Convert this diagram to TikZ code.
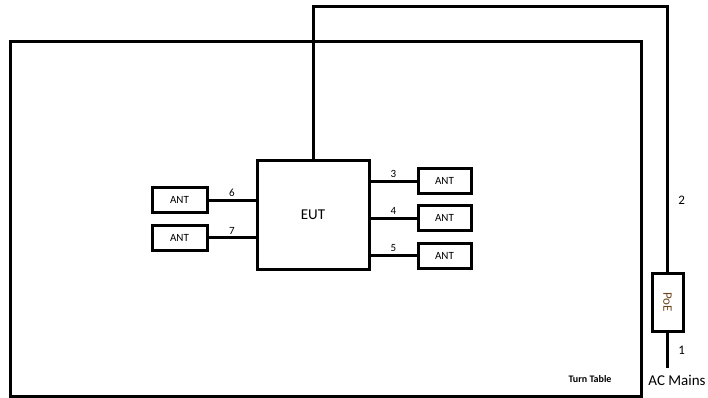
\documentclass[tikz,border=0pt]{standalone}
\usepackage{fontspec}
\setmainfont{Carlito}
\definecolor{poebrown}{RGB}{110,70,30}
\tikzset{
  box/.style={draw, line width=3pt, inner sep=0pt},
  antbox/.style={box, minimum width=53pt, minimum height=25pt, font=\fontsize{11}{13}\selectfont},
  cable/.style={line width=3pt},
  portnum/.style={font=\fontsize{11}{13}\selectfont, above, inner sep=2pt}
}
\begin{document}
\begin{tikzpicture}[x=1pt,y=-1pt]
    \useasboundingbox (0,0) rectangle (708,398);
    % turn table
    \draw[line width=3pt] (10,42) rectangle (641,396);
    \node[font=\bfseries\fontsize{10}{12}\selectfont] (tt) at (590,379) {Turn Table};
    % EUT and antennas
    \node[box, minimum width=112pt, minimum height=109pt, font=\fontsize{15}{17}\selectfont] (eut) at (313,215) {EUT};
    \node[antbox] (antR1) at (444.5,181) {ANT};
    \node[antbox] (antR2) at (444.5,218) {ANT};
    \node[antbox] (antR3) at (444.5,255.5) {ANT};
    \node[antbox, minimum width=55pt] (antL1) at (179.5,200) {ANT};
    \node[antbox, minimum width=55pt] (antL2) at (179.5,237.5) {ANT};
    \draw[cable] (antR1.west -| eut.east) -- node[portnum]{3} (antR1.west);
    \draw[cable] (antR2.west -| eut.east) -- node[portnum]{4} (antR2.west);
    \draw[cable] (antR3.west -| eut.east) -- node[portnum]{5} (antR3.west);
    \draw[cable] (antL1.east) -- node[portnum]{6} (antL1.east -| eut.west);
    \draw[cable] (antL2.east) -- node[portnum]{7} (antL2.east -| eut.west);
    % PoE and mains
    \node[box, minimum width=31pt, minimum height=58pt] (poe) at (667.5,302)
        {\rotatebox{-90}{\color{poebrown}\fontsize{13}{15}\selectfont PoE}};
    \coordinate (bend) at (667.5,7);
    \coordinate (mains) at (667.5,368);
    \draw[cable] (eut.north) |- (bend) -- node[pos=0.73, right=6pt, font=\fontsize{13}{15}\selectfont]{2} (poe.north);
    \draw[cable] (poe.south) -- node[right=6pt, font=\fontsize{13}{15}\selectfont]{1} (mains);
    \node[font=\fontsize{15}{17}\selectfont] (ac) at (677,380) {AC Mains};
\end{tikzpicture}
\end{document}
